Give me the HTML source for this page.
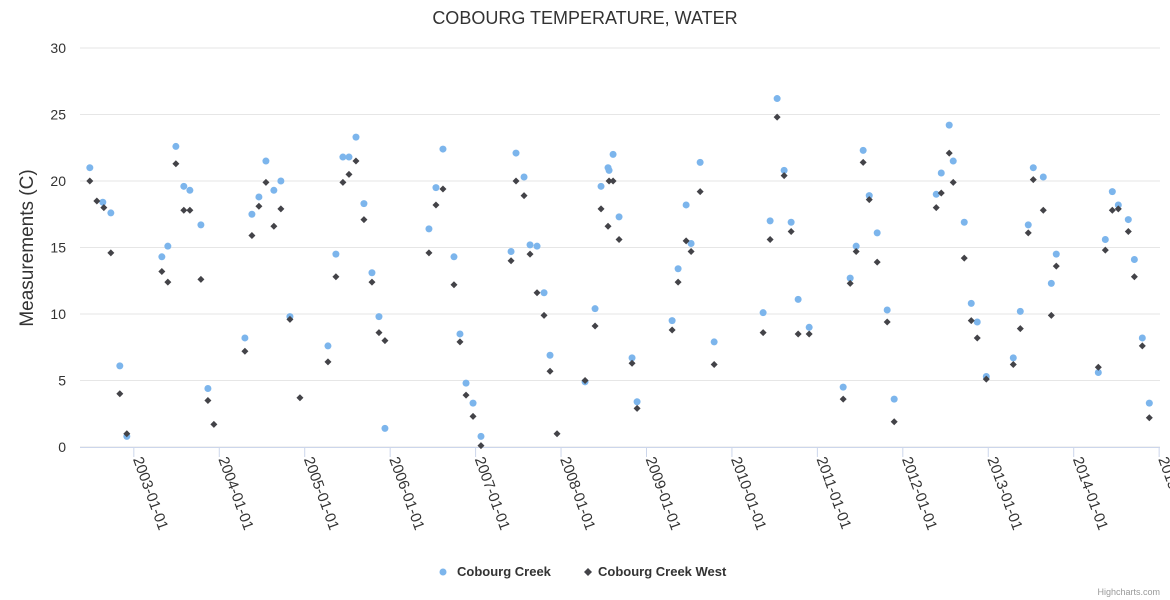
<!DOCTYPE html>
<html><head><meta charset="utf-8"><style>
html,body{margin:0;padding:0;background:#fff;}
svg{display:block;font-family:"Liberation Sans",sans-serif;}
</style></head><body>
<svg id="chart" width="1170" height="600">
<text x="585" y="24" text-anchor="middle" font-size="18" fill="#333">COBOURG TEMPERATURE, WATER</text>
<text transform="translate(33,248) rotate(-90)" text-anchor="middle" font-size="19" fill="#333">Measurements (C)</text>
<g id="grid"></g>
<g id="xaxis"></g>
<g id="yaxis"></g>
<g id="series1"></g>
<g id="series2"></g>
<g>
<g>
<circle cx="443" cy="572" r="3.5" fill="#7cb5ec"/>
<text x="457" y="576" font-size="13" font-weight="bold" fill="#333">Cobourg Creek</text></g>
<g>
<path d="M588,568 L592,572 L588,576 L584,572 Z" fill="#434348"/>
<text x="598" y="576" font-size="13" font-weight="bold" fill="#333">Cobourg Creek West</text></g>
</g>
<text x="1160" y="595" text-anchor="end" font-size="9" fill="#999">Highcharts.com</text>
</svg>
<script>
const creekX=[2002.485,2002.637,2002.731,2002.836,2002.918,2003.328,2003.398,2003.492,2003.585,2003.656,2003.785,2003.867,2004.300,2004.382,2004.464,2004.546,2004.639,2004.721,2004.827,2005.272,2005.365,2005.447,2005.518,2005.600,2005.693,2005.787,2005.869,2005.939,2006.454,2006.536,2006.618,2006.747,2006.817,2006.888,2006.970,2007.063,2007.415,2007.473,2007.567,2007.637,2007.719,2007.801,2007.871,2008.281,2008.398,2008.468,2008.550,2008.562,2008.609,2008.679,2008.831,2008.890,2009.300,2009.370,2009.464,2009.522,2009.628,2009.792,2010.365,2010.447,2010.529,2010.611,2010.693,2010.775,2010.904,2011.302,2011.384,2011.454,2011.536,2011.607,2011.700,2011.817,2011.899,2012.391,2012.450,2012.543,2012.590,2012.719,2012.801,2012.871,2012.977,2013.293,2013.375,2013.468,2013.527,2013.644,2013.738,2013.796,2014.288,2014.370,2014.452,2014.522,2014.639,2014.710,2014.803,2014.885];
const creekY=[21,18.4,17.6,6.1,0.8,14.3,15.1,22.6,19.6,19.3,16.7,4.4,8.2,17.5,18.8,21.5,19.3,20.0,9.8,7.6,14.5,21.8,21.8,23.3,18.3,13.1,9.8,1.4,16.4,19.5,22.4,14.3,8.5,4.8,3.3,0.8,14.7,22.1,20.3,15.2,15.1,11.6,6.9,4.9,10.4,19.6,21.0,20.8,22.0,17.3,6.7,3.4,9.5,13.4,18.2,15.3,21.4,7.9,10.1,17.0,26.2,20.8,16.9,11.1,9.0,4.5,12.7,15.1,22.3,18.9,16.1,10.3,3.6,19.0,20.6,24.2,21.5,16.9,10.8,9.4,5.3,6.7,10.2,16.7,21.0,20.3,12.3,14.5,5.6,15.6,19.2,18.2,17.1,14.1,8.2,3.3];
const westX=[2002.485,2002.567,2002.649,2002.731,2002.836,2002.918,2003.328,2003.398,2003.492,2003.585,2003.656,2003.785,2003.867,2003.937,2004.300,2004.382,2004.464,2004.546,2004.639,2004.721,2004.827,2004.944,2005.272,2005.365,2005.447,2005.518,2005.600,2005.693,2005.787,2005.869,2005.939,2006.454,2006.536,2006.618,2006.747,2006.817,2006.888,2006.970,2007.063,2007.415,2007.473,2007.567,2007.637,2007.719,2007.801,2007.871,2007.953,2008.281,2008.398,2008.468,2008.550,2008.562,2008.609,2008.679,2008.831,2008.890,2009.300,2009.370,2009.464,2009.522,2009.628,2009.792,2010.365,2010.447,2010.529,2010.611,2010.693,2010.775,2010.904,2011.302,2011.384,2011.454,2011.536,2011.607,2011.700,2011.817,2011.899,2012.391,2012.450,2012.543,2012.590,2012.719,2012.801,2012.871,2012.977,2013.293,2013.375,2013.468,2013.527,2013.644,2013.738,2013.796,2014.288,2014.370,2014.452,2014.522,2014.639,2014.710,2014.803,2014.885];
const westY=[20.0,18.5,18.0,14.6,4.0,1.0,13.2,12.4,21.3,17.8,17.8,12.6,3.5,1.7,7.2,15.9,18.1,19.9,16.6,17.9,9.6,3.7,6.4,12.8,19.9,20.5,21.5,17.1,12.4,8.6,8.0,14.6,18.2,19.4,12.2,7.9,3.9,2.3,0.1,14.0,20.0,18.9,14.5,11.6,9.9,5.7,1.0,5.0,9.1,17.9,16.6,20.0,20.0,15.6,6.3,2.9,8.8,12.4,15.5,14.7,19.2,6.2,8.6,15.6,24.8,20.4,16.2,8.5,8.5,3.6,12.3,14.7,21.4,18.6,13.9,9.4,1.9,18.0,19.1,22.1,19.9,14.2,9.5,8.2,5.1,6.2,8.9,16.1,20.1,17.8,9.9,13.6,6.0,14.8,17.8,17.9,16.2,12.8,7.6,2.2];
const yTicks=[0,5,10,15,20,25,30];
const xTickYears=[2003,2004,2005,2006,2007,2008,2009,2010,2011,2012,2013,2014,2015];

const NS='http://www.w3.org/2000/svg';
const L=80,R=1160,T=48,B=447,xMin=2002.37,xMax=2015.01,yMin=0,yMax=30;
const xs=v=>L+(v-xMin)/(xMax-xMin)*(R-L);
const ys=v=>B-(v-yMin)/(yMax-yMin)*(B-T);
function mk(tag,at,parent){const e=document.createElementNS(NS,tag);for(const k in at)e.setAttribute(k,at[k]);parent.appendChild(e);return e;}
const grid=document.getElementById('grid'),ya=document.getElementById('yaxis'),xa=document.getElementById('xaxis');
yTicks.forEach(t=>{
  const ln=mk('line',{x1:L,x2:R,y1:ys(t),y2:ys(t),stroke:'#e6e6e6','stroke-width':1},grid);
  
  
  const tx=mk('text',{x:66,y:ys(t)+5,'text-anchor':'end','font-size':14,fill:'#333'},ya);
  tx.textContent=t;
  
  
});
const axl=mk('line',{x1:L,x2:R,y1:B+0.5,y2:B+0.5,stroke:'#ccd6eb','stroke-width':1},xa);


xTickYears.forEach(y=>{
  const x=xs(y);
  const tk=mk('line',{x1:x,x2:x,y1:B,y2:B+10,stroke:'#ccd6eb','stroke-width':1},xa);
  
  
  const tx=mk('text',{transform:`translate(${x-1},${B+12}) rotate(70)`,'font-size':15,fill:'#333'},xa);
  tx.textContent=y+'-01-01';
  
  
});
const s1=document.getElementById('series1'),s2=document.getElementById('series2');
creekX.forEach((x,i)=>{
  const c=mk('circle',{cx:xs(x),cy:ys(creekY[i]),r:3.5,fill:'#7cb5ec'},s1);
  
  
});
westX.forEach((x,i)=>{
  const cx=xs(x),cy=ys(westY[i]);
  const p=mk('path',{d:`M${cx},${cy-3.5} L${cx+3.5},${cy} L${cx},${cy+3.5} L${cx-3.5},${cy} Z`,fill:'#434348'},s2);
  
  
});
</script>
</body></html>
